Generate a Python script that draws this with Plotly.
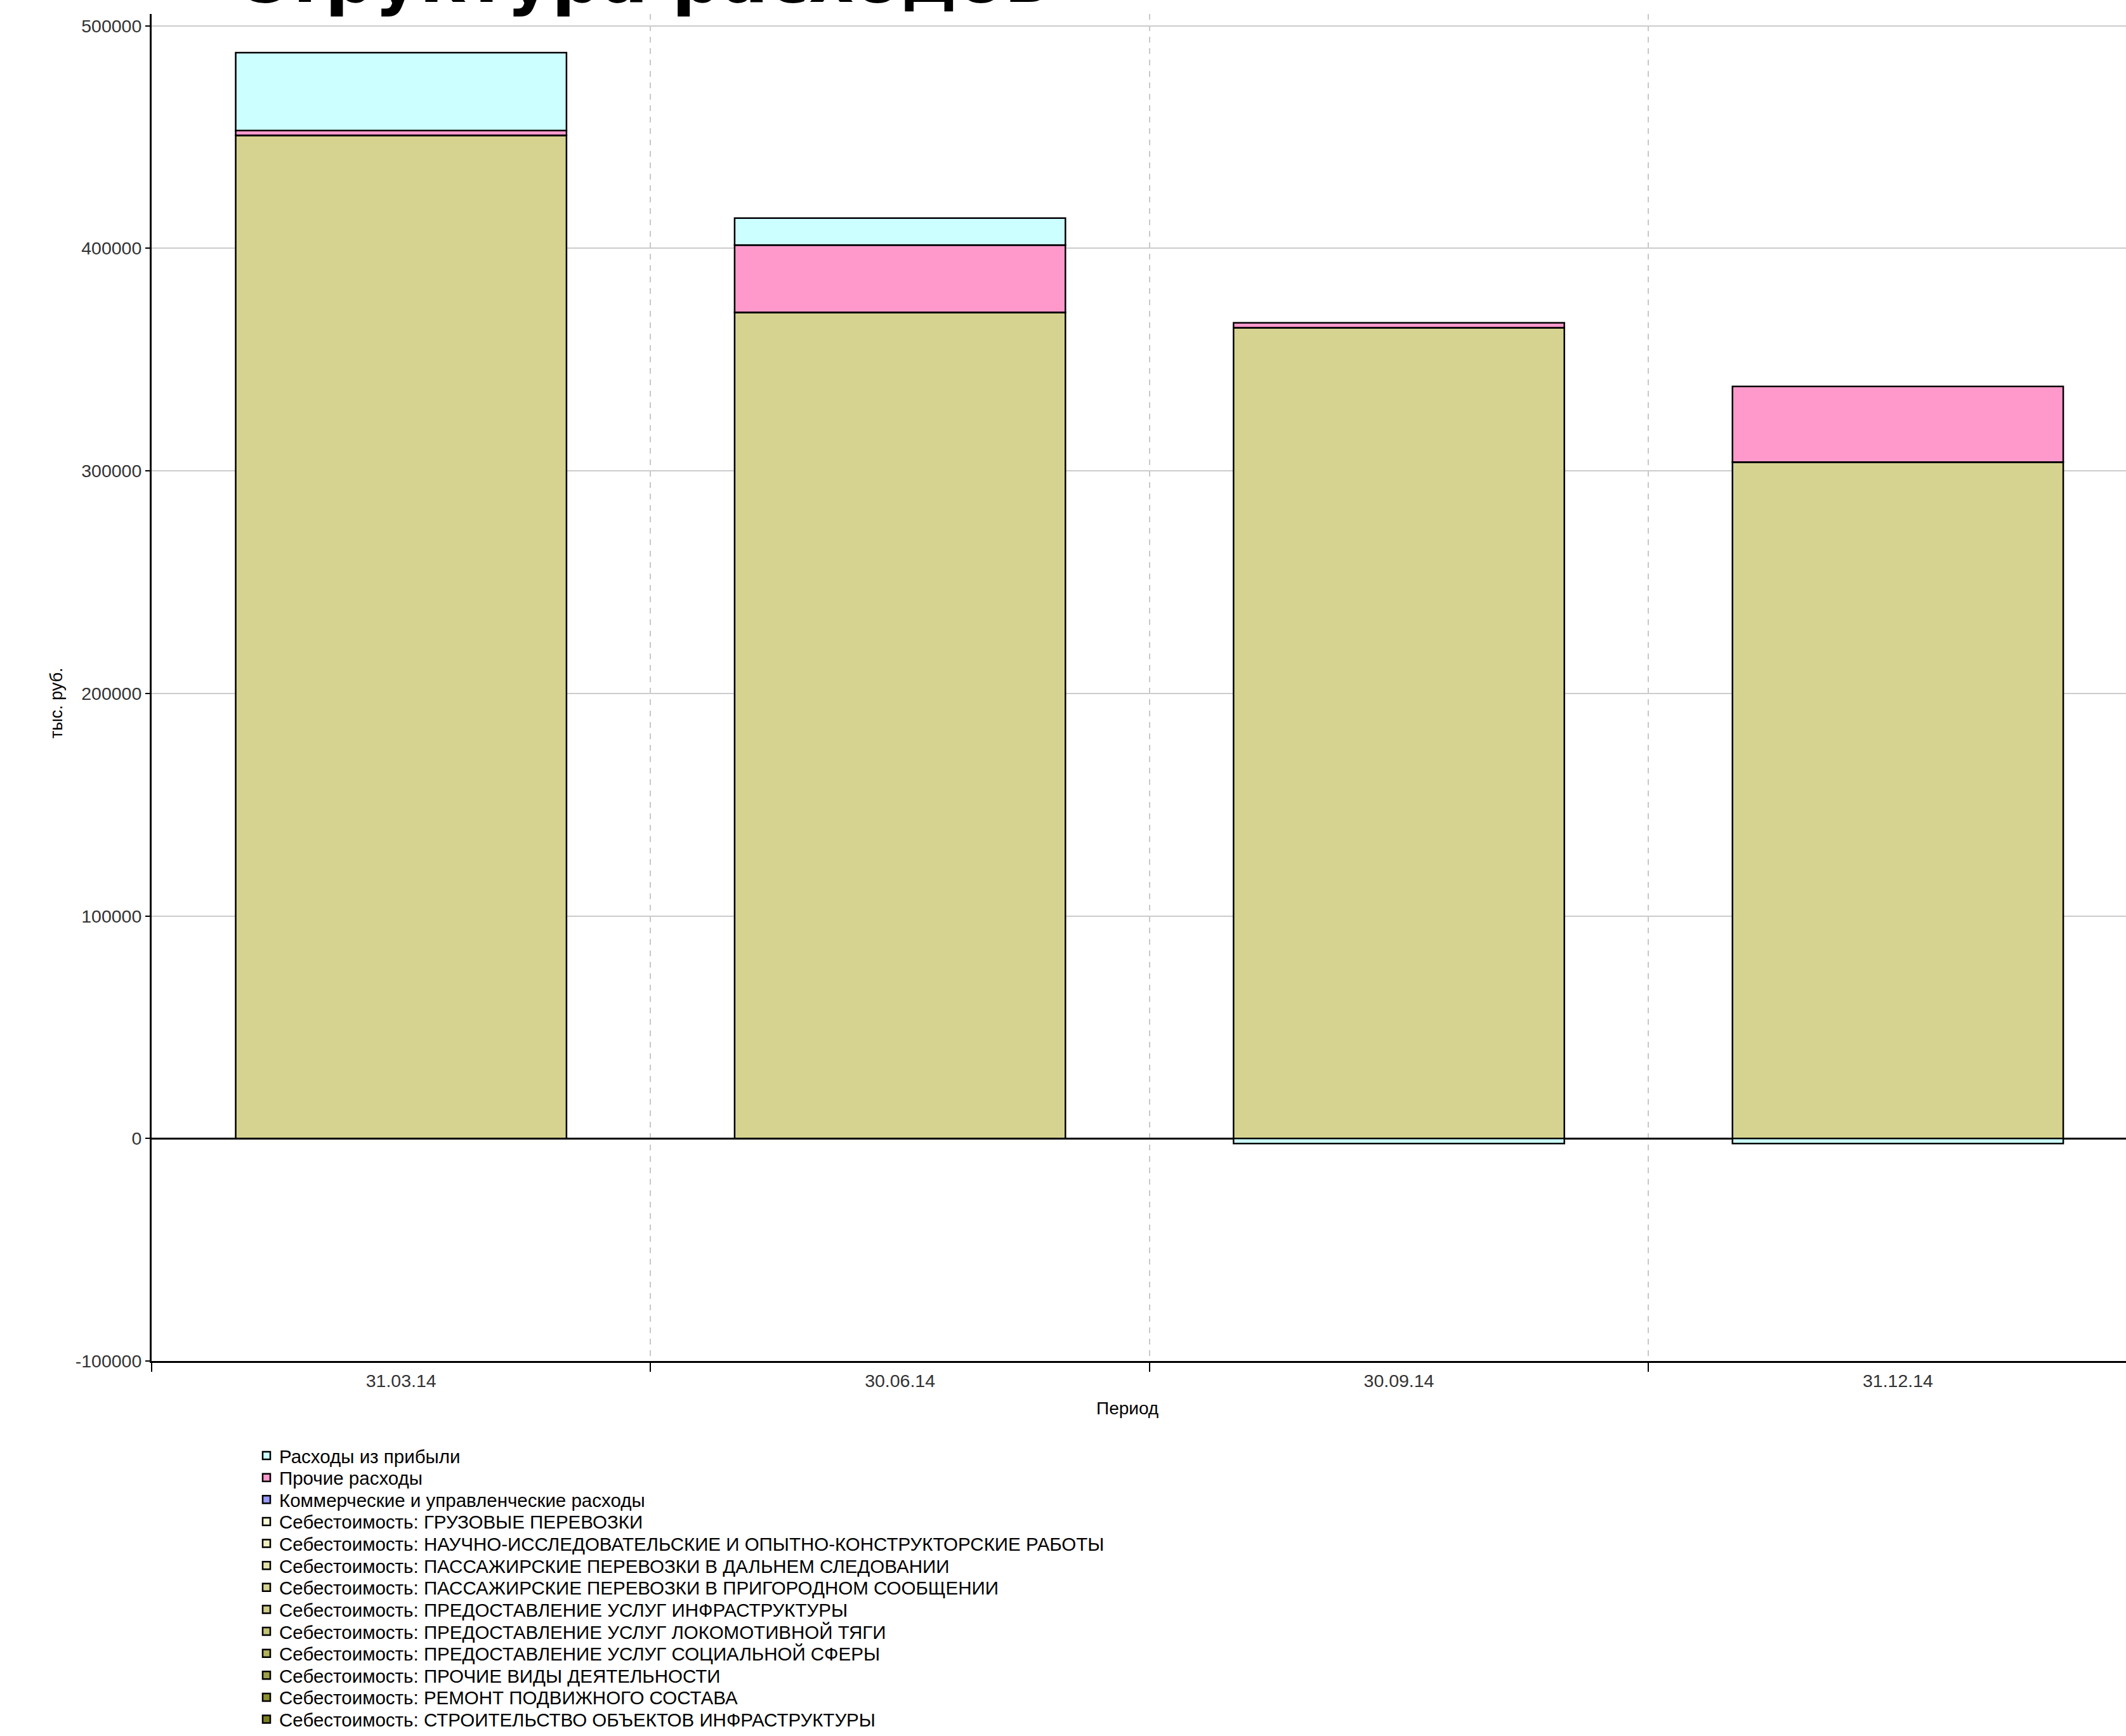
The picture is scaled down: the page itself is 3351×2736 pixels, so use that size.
import plotly.graph_objects as go

# ---------------- data ----------------
periods = ["31.03.14", "30.06.14", "30.09.14", "31.12.14"]

series_names = [
    "Себестоимость: СТРОИТЕЛЬСТВО ОБЪЕКТОВ ИНФРАСТРУКТУРЫ",
    "Себестоимость: РЕМОНТ ПОДВИЖНОГО СОСТАВА",
    "Себестоимость: ПРОЧИЕ ВИДЫ ДЕЯТЕЛЬНОСТИ",
    "Себестоимость: ПРЕДОСТАВЛЕНИЕ УСЛУГ СОЦИАЛЬНОЙ СФЕРЫ",
    "Себестоимость: ПРЕДОСТАВЛЕНИЕ УСЛУГ ЛОКОМОТИВНОЙ ТЯГИ",
    "Себестоимость: ПРЕДОСТАВЛЕНИЕ УСЛУГ ИНФРАСТРУКТУРЫ",
    "Себестоимость: ПАССАЖИРСКИЕ ПЕРЕВОЗКИ В ПРИГОРОДНОМ СООБЩЕНИИ",
    "Себестоимость: ПАССАЖИРСКИЕ ПЕРЕВОЗКИ В ДАЛЬНЕМ СЛЕДОВАНИИ",
    "Себестоимость: НАУЧНО-ИССЛЕДОВАТЕЛЬСКИЕ И ОПЫТНО-КОНСТРУКТОРСКИЕ РАБОТЫ",
    "Себестоимость: ГРУЗОВЫЕ ПЕРЕВОЗКИ",
    "Коммерческие и управленческие расходы",
    "Прочие расходы",
    "Расходы из прибыли",
]

stroitelstvo = [0, 0, 0, 0]
remont = [0, 0, 0, 0]
prochie_vidy = [0, 0, 0, 0]
socialnaya = [0, 0, 0, 0]
lokomotiv = [0, 0, 0, 0]
infrastruktura = [0, 0, 0, 0]
prigorod = [450800, 371250, 364350, 303950]
dalnee = [0, 0, 0, 0]
niokr = [0, 0, 0, 0]
gruzovye = [0, 0, 0, 0]
kommercheskie = [0, 0, 0, 0]
prochie_rashody = [2100, 30200, 2150, 34000]
iz_pribyli = [35050, 12100, -2300, -2300]

series_values = [
    stroitelstvo, remont, prochie_vidy, socialnaya, lokomotiv, infrastruktura,
    prigorod, dalnee, niokr, gruzovye, kommercheskie, prochie_rashody, iz_pribyli,
]

series_colors = [
    "#7c7f1e", "#8c902e", "#a0a146", "#b2b25a", "#c3c374", "#cdcb85",
    "#d5d38f", "#e4e2a8", "#f1efbf", "#fbfbd6",
    "#9999ff", "#ff99cc", "#ccffff",
]

y_ticks = [-100000, 0, 100000, 200000, 300000, 400000, 500000]

# ---------------- figure ----------------
W, H = 3351, 2736
L, R, T, B = 239, 0, 22, 583
plot_w = W - L - R
plot_h = H - T - B
plot_bottom = H - B


def px_x(x):
    return (x - L) / plot_w


def px_y(y):
    return (plot_bottom - y) / plot_h


n = len(series_names)
fig = go.Figure()
for i, (name, vals, col) in enumerate(zip(series_names, series_values, series_colors)):
    leg = "legend" if i == n - 1 else "legend%d" % (n - i)
    fig.add_trace(go.Bar(
        x=periods, y=vals, name=name,
        marker=dict(color=col, line=dict(color="#000000", width=2.5)),
        width=0.663,
        legend=leg,
    ))

legend_font = dict(family="Liberation Sans, Arial, sans-serif", size=29.5, color="#000000")
legends = {}
for row in range(n):
    key = "legend" if row == 0 else "legend%d" % (row + 1)
    legends[key] = dict(
        x=px_x(400), xanchor="left",
        y=px_y(2303 + 34.75 * row), yanchor="middle",
        font=legend_font,
        bgcolor="rgba(0,0,0,0)",
        borderwidth=0,
    )

fig.update_layout(
    width=W, height=H,
    margin=dict(l=L, r=R, t=T, b=B, pad=0),
    barmode="relative",
    paper_bgcolor="white",
    plot_bgcolor="white",
    font=dict(family="Liberation Sans, Arial, sans-serif", size=28, color="#000000"),
    showlegend=True,
    xaxis=dict(
        type="category",
        range=[-0.5, -0.5 + plot_w / 786.4],
        tickson="boundaries",
        ticks="outside", ticklen=14, tickcolor="#000000", tickwidth=2,
        ticklabelstandoff=4,
        showgrid=True, gridcolor="#c8c8c8", griddash="dash", gridwidth=2,
        showline=True, linecolor="#000000", linewidth=3,
        tickfont=dict(size=28.5, color="#333333"),
        zeroline=False,
        fixedrange=True,
    ),
    yaxis=dict(
        range=[-100000, 505311],
        tickvals=y_ticks,
        ticktext=[str(v) for v in y_ticks],
        ticks="outside", ticklen=7, tickcolor="#000000", tickwidth=2,
        showgrid=True, gridcolor="#cccccc", gridwidth=2,
        showline=True, linecolor="#000000", linewidth=3,
        zeroline=True, zerolinecolor="#000000", zerolinewidth=3,
        tickfont=dict(size=28.5, color="#333333"),
        fixedrange=True,
    ),
    annotations=[
        dict(
            text="<b>Структура расходов</b>",
            xref="paper", yref="paper",
            x=px_x(1010), y=px_y(-35),
            xanchor="center", yanchor="middle",
            showarrow=False,
            font=dict(family="DejaVu Sans, Verdana, sans-serif", size=109, color="#000000"),
        ),
        dict(
            text="Период",
            xref="paper", yref="paper",
            x=px_x(1777), y=px_y(2228),
            xanchor="center", yanchor="middle",
            showarrow=False,
            font=dict(size=28, color="#000000"),
        ),
        dict(
            text="тыс. руб.",
            xref="paper", yref="paper",
            x=px_x(89), y=px_y(1112),
            xanchor="center", yanchor="middle",
            textangle=-90,
            showarrow=False,
            font=dict(size=27, color="#000000"),
        ),
    ],
    **legends,
)

fig.write_html(
    "out.html",
    config={"displayModeBar": False},
    post_script="document.body.style.margin='0';document.body.style.overflow='hidden';",
)
